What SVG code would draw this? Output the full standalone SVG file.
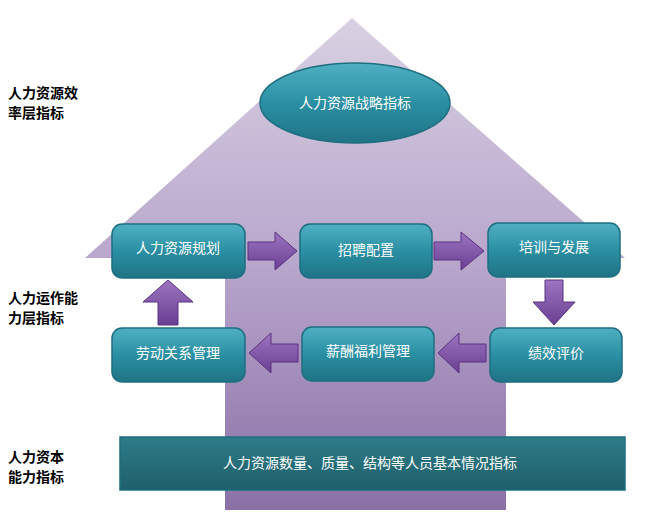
<svg xmlns="http://www.w3.org/2000/svg" width="652" height="522" viewBox="0 0 652 522">
<defs>
<linearGradient id="house" x1="0" y1="0" x2="0" y2="1"><stop offset="0" stop-color="#d8d0e2"/><stop offset="0.5" stop-color="#b8a6cc"/><stop offset="1" stop-color="#8a70a6"/></linearGradient>
<linearGradient id="box" x1="0" y1="0" x2="0" y2="1"><stop offset="0" stop-color="#4fb0c2"/><stop offset="0.5" stop-color="#2b8fa3"/><stop offset="1" stop-color="#1f7385"/></linearGradient>
<linearGradient id="arr" x1="0" y1="0" x2="0" y2="1"><stop offset="0" stop-color="#9c74c0"/><stop offset="1" stop-color="#6a3f93"/></linearGradient>
<linearGradient id="bar" x1="0" y1="0" x2="0" y2="1"><stop offset="0" stop-color="#2e7c88"/><stop offset="1" stop-color="#1e5f6a"/></linearGradient>
<style>
.b{fill:url(#box);stroke:#1d6f80;stroke-width:1.5}
.t{font-family:"Noto Sans CJK SC",sans-serif;font-size:14px;fill:#fff;text-anchor:middle}
.l{font-family:"Noto Sans CJK SC",sans-serif;font-size:14px;font-weight:bold;fill:#000}
.a{fill:url(#arr);stroke:#5a3380;stroke-width:1}
</style>
</defs>
<polygon points="352,18 625,258 506,258 506,510 225,510 225,258 85,258" fill="url(#house)"/>
<g id="labels">
<text class="l" x="8" y="98">人力资源效</text><text class="l" x="8" y="118">率层指标</text>
<text class="l" x="8" y="303">人力运作能</text><text class="l" x="8" y="323">力层指标</text>
<text class="l" x="8" y="462">人力资本</text><text class="l" x="8" y="482">能力指标</text>
</g>
<g id="n0"><ellipse cx="355" cy="103" rx="95" ry="40" class="b"/><text class="t" x="355" y="108">人力资源战略指标</text></g>
<g id="n1"><rect x="112" y="224" width="133" height="54" rx="10" class="b"/><text class="t" x="178" y="253">人力资源规划</text></g>
<g id="n2"><rect x="300" y="224" width="132" height="54" rx="10" class="b"/><text class="t" x="366" y="255">招聘配置</text></g>
<g id="n3"><rect x="488" y="223" width="132" height="54" rx="10" class="b"/><text class="t" x="554" y="252">培训与发展</text></g>
<g id="n4"><rect x="490" y="328" width="132" height="54" rx="10" class="b"/><text class="t" x="556" y="358">绩效评价</text></g>
<g id="n5"><rect x="302" y="327" width="132" height="54" rx="10" class="b"/><text class="t" x="368" y="356">薪酬福利管理</text></g>
<g id="n6"><rect x="112" y="328" width="133" height="54" rx="10" class="b"/><text class="t" x="178" y="358">劳动关系管理</text></g>
<g id="n7"><rect x="120" y="437" width="505" height="53" class="b" fill="url(#bar)" style="fill:url(#bar)"/><text class="t" x="370" y="468">人力资源数量、质量、结构等人员基本情况指标</text></g>
<g id="connectors">
<polygon class="a" points="248,242 275,242 275,232 297,251 275,270 275,260 248,260"/>
<polygon class="a" points="434,242 461,242 461,232 484,251 461,270 461,260 434,260"/>
<polygon class="a" points="545,280 563,280 563,302 575,302 554,325 533,302 545,302"/>
<polygon class="a" points="486,344 459,344 459,333 438,353 459,373 459,362 486,362"/>
<polygon class="a" points="298,344 271,344 271,333 249,353 271,373 271,362 298,362"/>
<polygon class="a" points="158,325 178,325 178,302 193,302 168,280 143,302 158,302"/>
</g>
</svg>
